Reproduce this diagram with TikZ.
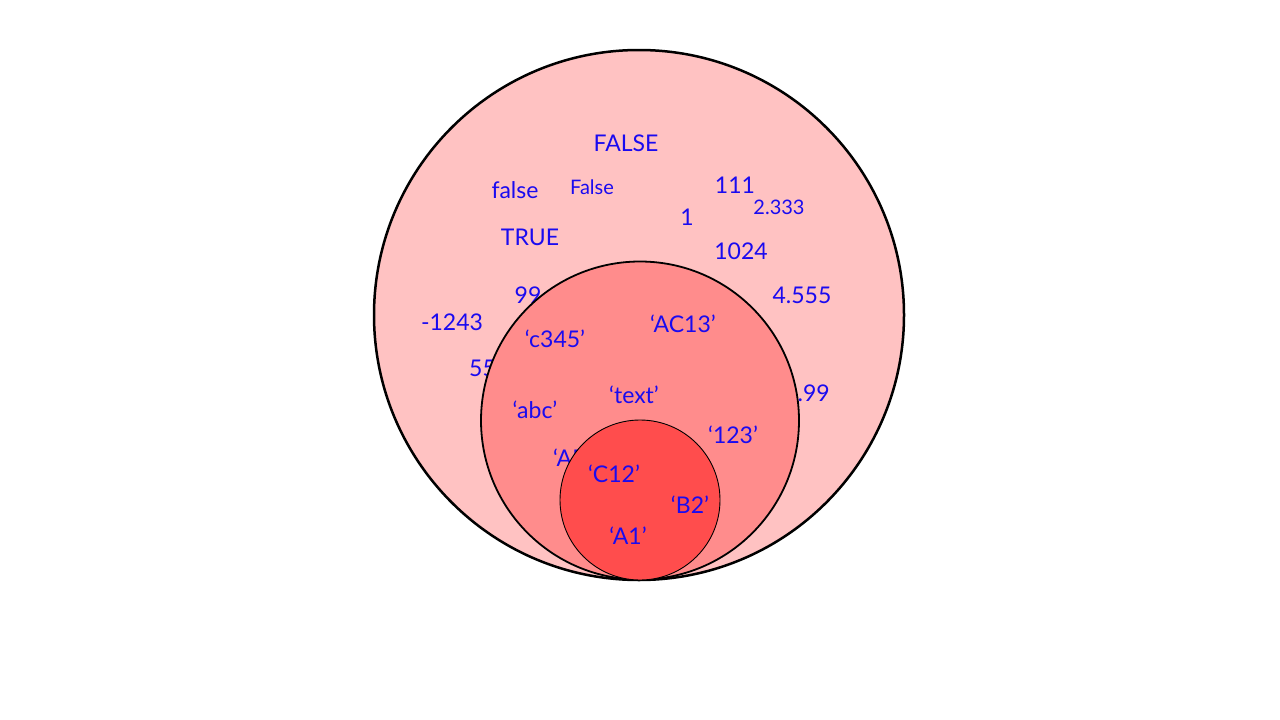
\documentclass[tikz,border=0pt]{standalone}
\usepackage{fontspec}
\setmainfont{Lato}
\definecolor{outerfill}{HTML}{FFC2C2}
\definecolor{midfill}{HTML}{FF8C8C}
\definecolor{innerfill}{HTML}{FF4D4D}
\definecolor{txtblue}{HTML}{1A0AF0}
\begin{document}
\begin{tikzpicture}[x=1pt,y=-1pt,
  lbl/.style={text=txtblue,font=\fontsize{23}{27}\selectfont,inner sep=0pt},
  lblsmall/.style={text=txtblue,font=\fontsize{20}{24}\selectfont,inner sep=0pt},
  ring/.style={circle,draw=black,inner sep=0pt}]
\useasboundingbox (0,0) rectangle (1280,720);
% outer set
\node[ring,fill=outerfill,line width=2.5pt,minimum size=530pt] (outer) at (639,315) {};
\node[lbl] (tFALSE) at (626,143) {FALSE};
\node[lbl] (tfalse) at (515,190) {false};
\node[lblsmall] (tFalse) at (592,187) {False};
\node[lbl] (tTRUE) at (530,237) {TRUE};
\node[lbl] (t111) at (735,185) {111};
\node[lblsmall] (t2333) at (779,207) {2.333};
\node[lbl] (t1) at (687,217) {1};
\node[lbl] (t1024) at (741,251) {1024};
\node[lbl] (t99) at (528,295) {99};
\node[lbl] (t1243) at (452,322) {-1243};
\node[lbl] (t4555) at (802,295) {4.555};
\node[lbl,anchor=west] (t55) at (469,368) {55};
\node[lbl,anchor=east] (t299) at (830,393) {2.99};
% middle set
\node[ring,fill=midfill,line width=1.8pt,minimum size=318pt] (middle) at (640,420.5) {};
\node[lbl] (tc345) at (555,339) {‘c345’};
\node[lbl] (tAC13) at (683,324) {‘AC13’};
\node[lbl] (tabc) at (535,410) {‘abc’};
\node[lbl] (ttext) at (634,395) {‘text’};
\node[lbl] (t123) at (733,435) {‘123’};
\node[lbl,anchor=west] (tA) at (553,458) {‘AB’};
% inner set
\node[ring,fill=innerfill,line width=0.9pt,minimum size=160pt] (inner) at (640,500) {};
\node[lbl] (tC12) at (614,474) {‘C12’};
\node[lbl] (tB2) at (690,505) {‘B2’};
\node[lbl] (tA1) at (628,536) {‘A1’};
\end{tikzpicture}
\end{document}
